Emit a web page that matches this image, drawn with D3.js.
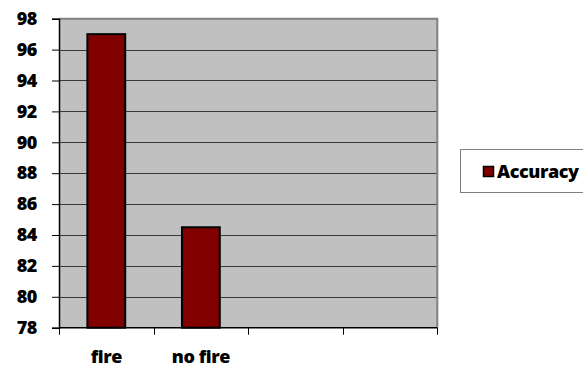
<!DOCTYPE html>
<html>
<head>
<meta charset="utf-8">
<script src="https://cdn.jsdelivr.net/npm/d3@7"></script>
<style>
  html, body { margin: 0; padding: 0; background: #fff; }
  svg { display: block; }
  text { font-family: "Open Sans", "DejaVu Sans", sans-serif; font-weight: 800; fill: #000; letter-spacing: -0.4px; }
</style>
</head>
<body>
<svg id="chart" width="583" height="369"></svg>
<script>
// Category slots along the x axis (the last two are empty)
const categories = ["fire", "no fire", "", " "];
// Accuracy values for each labelled category
const accuracy = [97, 84.5];
// Y axis ticks
const yTicks = [78, 80, 82, 84, 86, 88, 90, 92, 94, 96, 98];
const seriesName = "Accuracy";

const svg = d3.select("#chart");
const plot = { left: 59, top: 18.7, right: 437.3, bottom: 327.7 };
const fontSize = "18px";

const x = d3.scaleBand()
  .domain(categories)
  .range([plot.left, plot.right])
  .paddingInner(0)
  .paddingOuter(0);

const y = d3.scaleLinear()
  .domain([78, 98])
  .range([plot.bottom, plot.top]);

// Plot background
svg.append("rect")
  .attr("x", plot.left).attr("y", plot.top)
  .attr("width", plot.right - plot.left).attr("height", plot.bottom - plot.top)
  .attr("fill", "#c0c0c0");

// Horizontal gridlines
svg.append("g")
  .selectAll("line")
  .data(yTicks.filter(t => t !== 78 && t !== 98))
  .join("line")
  .attr("x1", plot.left).attr("x2", plot.right)
  .attr("y1", d => Math.round(y(d)) + 0.5).attr("y2", d => Math.round(y(d)) + 0.5)
  .attr("stroke", "#3a3a3a").attr("stroke-width", 1);

// Plot frame: top and right edges in gray
svg.append("path")
  .attr("d", `M${plot.left},${plot.top} H${plot.right} V${plot.bottom}`)
  .attr("fill", "none")
  .attr("stroke", "#808080")
  .attr("stroke-width", 2);

// Bars
const bars = categories.slice(0, accuracy.length).map((c, i) => ({ cat: c, value: accuracy[i] }));
const barW = x.bandwidth() * 0.4;
svg.append("g")
  .selectAll("rect")
  .data(bars)
  .join("rect")
  .attr("x", d => x(d.cat) + (x.bandwidth() - barW) / 2)
  .attr("y", d => y(d.value))
  .attr("width", barW)
  .attr("height", d => y(78) - y(d.value))
  .attr("fill", "#800000")
  .attr("stroke", "#000")
  .attr("stroke-width", 2);

// Y axis
const yAxis = svg.append("g")
  .attr("transform", `translate(${plot.left},0)`)
  .call(d3.axisLeft(y).tickValues(yTicks).tickSize(7).tickPadding(15).tickFormat(d3.format("d")));
yAxis.select(".domain").attr("stroke", "#000").attr("stroke-width", 1.5);
yAxis.selectAll(".tick line").attr("stroke", "#000");
yAxis.selectAll("text")
  .style("font-family", "'Open Sans', sans-serif")
  .style("font-weight", 800)
  .style("font-size", fontSize)
  .attr("fill", "#000");

// X axis: ticks on the band boundaries, labels centered in each band
const xAxisG = svg.append("g").attr("transform", `translate(0,${plot.bottom})`);
xAxisG.append("line")
  .attr("x1", plot.left).attr("x2", plot.right)
  .attr("y1", 0).attr("y2", 0)
  .attr("stroke", "#000").attr("stroke-width", 1.5);
const boundaries = categories.map(c => x(c)).concat([plot.right]);
xAxisG.selectAll("line.tick")
  .data(boundaries)
  .join("line")
  .attr("class", "tick")
  .attr("x1", d => Math.round(d) + 0.5).attr("x2", d => Math.round(d) + 0.5)
  .attr("y1", 0).attr("y2", 7)
  .attr("stroke", "#000");
xAxisG.selectAll("text")
  .data(categories.filter(c => c.trim() !== ""))
  .join("text")
  .attr("x", d => x(d) + x.bandwidth() / 2)
  .attr("y", 35.5)
  .attr("text-anchor", "middle")
  .style("font-size", fontSize)
  .text(d => d);

// Legend
const legend = svg.append("g");
legend.append("rect")
  .attr("x", 460.5).attr("y", 149.5)
  .attr("width", 140).attr("height", 43)
  .attr("fill", "#fff")
  .attr("stroke", "#808080").attr("stroke-width", 1);
legend.append("rect")
  .attr("x", 483.5).attr("y", 166.5)
  .attr("width", 10).attr("height", 10)
  .attr("fill", "#800000")
  .attr("stroke", "#000").attr("stroke-width", 1.5);
legend.append("text")
  .attr("x", 497).attr("y", 177.5)
  .style("font-size", fontSize)
  .text(seriesName);
</script>
</body>
</html>
